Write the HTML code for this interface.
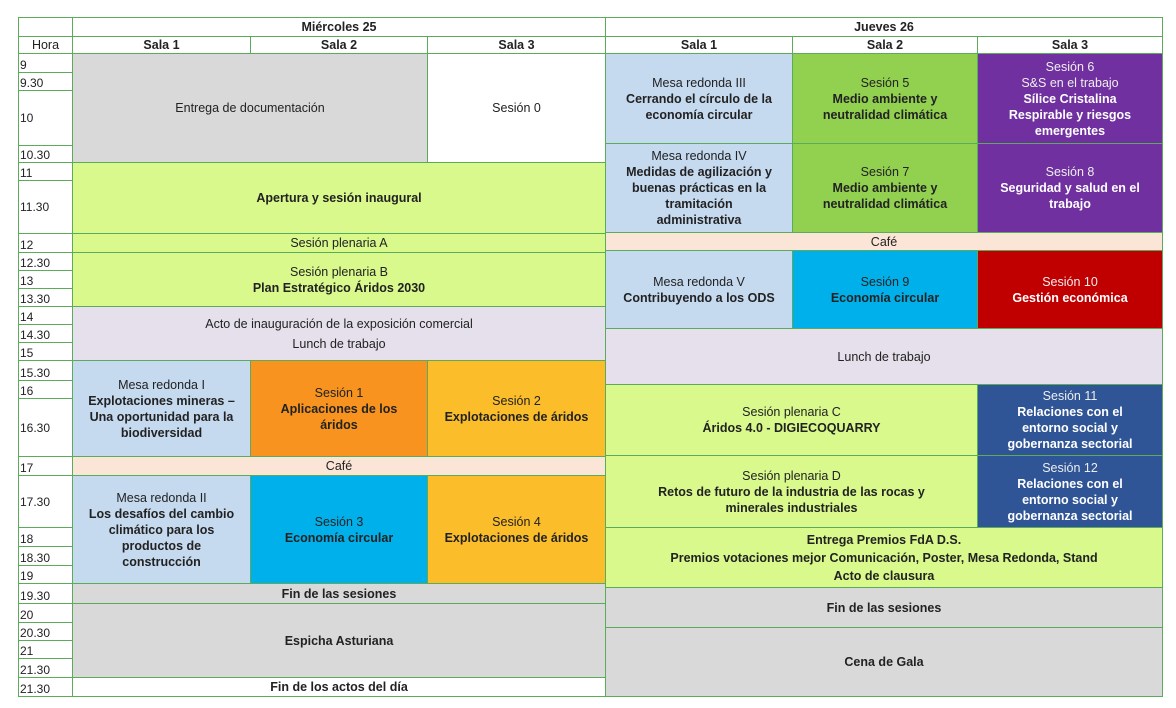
<!DOCTYPE html>
<html><head><meta charset="utf-8"><style>
body{margin:0;width:1176px;height:708px;background:#fff;font-family:"Liberation Sans",sans-serif;overflow:hidden;position:relative}
.c{position:absolute;display:flex;flex-direction:column;align-items:center;justify-content:center;text-align:center;border:1.5px solid #5bab5b;box-sizing:border-box;font-size:12.5px;color:#222;line-height:16px}
.h{position:absolute;border:1.5px solid #5bab5b;box-sizing:border-box;font-size:12px;color:#222;padding-left:1px;display:flex;align-items:flex-end;line-height:14px;left:18px;width:55px}
b{font-weight:bold}
.g{background:#d9d9d9}.lg{background:#d9f98c}.lav{background:#e5e0ec}.lb{background:#c5d9ef}.or{background:#f7931e}.yo{background:#fbbd2a}
.cafe{background:#fbe5d6}.cy{background:#00b0ea}.gr{background:#92d050}.pu{background:#7030a0;color:#fff}.rd{background:#c00000;color:#fff}.bl{background:#2f5597;color:#fff}
.pu span,.rd span,.bl span{color:#eee}
</style></head><body>
<!-- headers -->
<div class="c" style="left:18px;top:17px;width:55px;height:20px"></div>
<div class="c" style="left:72px;top:17px;width:534px;height:20px"><b>Miércoles 25</b></div>
<div class="c" style="left:605px;top:17px;width:558px;height:20px"><b>Jueves 26</b></div>
<div class="c" style="left:18px;top:36px;width:55px;height:18px;font-weight:normal">Hora</div>
<div class="c" style="left:72px;top:36px;width:179px;height:18px"><b>Sala 1</b></div>
<div class="c" style="left:250px;top:36px;width:178px;height:18px"><b>Sala 2</b></div>
<div class="c" style="left:427px;top:36px;width:179px;height:18px"><b>Sala 3</b></div>
<div class="c" style="left:605px;top:36px;width:188px;height:18px"><b>Sala 1</b></div>
<div class="c" style="left:792px;top:36px;width:186px;height:18px"><b>Sala 2</b></div>
<div class="c" style="left:977px;top:36px;width:186px;height:18px"><b>Sala 3</b></div>
<!-- hours -->
<div class="h" style="top:53px;height:20px">9</div>
<div class="h" style="top:72px;height:19px">9.30</div>
<div class="h" style="top:90px;height:56px;align-items:center">10</div>
<div class="h" style="top:145px;height:18px">10.30</div>
<div class="h" style="top:162px;height:19px">11</div>
<div class="h" style="top:180px;height:54px;align-items:center">11.30</div>
<div class="h" style="top:233px;height:20px">12</div>
<div class="h" style="top:252px;height:19px">12.30</div>
<div class="h" style="top:270px;height:19px">13</div>
<div class="h" style="top:288px;height:19px">13.30</div>
<div class="h" style="top:306px;height:19px">14</div>
<div class="h" style="top:324px;height:19px">14.30</div>
<div class="h" style="top:342px;height:19px">15</div>
<div class="h" style="top:360px;height:21px">15.30</div>
<div class="h" style="top:380px;height:19px">16</div>
<div class="h" style="top:398px;height:59px;align-items:center">16.30</div>
<div class="h" style="top:456px;height:20px">17</div>
<div class="h" style="top:475px;height:53px;align-items:center">17.30</div>
<div class="h" style="top:527px;height:20px">18</div>
<div class="h" style="top:546px;height:20px">18.30</div>
<div class="h" style="top:565px;height:19px">19</div>
<div class="h" style="top:583px;height:21px">19.30</div>
<div class="h" style="top:603px;height:20px">20</div>
<div class="h" style="top:622px;height:19px">20.30</div>
<div class="h" style="top:640px;height:19px">21</div>
<div class="h" style="top:658px;height:20px">21.30</div>
<div class="h" style="top:677px;height:20px">21.30</div>
<!-- Wednesday -->
<div class="c g" style="left:72px;top:53px;width:356px;height:110px">Entrega de documentación</div>
<div class="c" style="left:427px;top:53px;width:179px;height:110px">Sesión 0</div>
<div class="c lg" style="left:72px;top:162px;width:534px;height:72px"><b>Apertura y sesión inaugural</b></div>
<div class="c lg" style="left:72px;top:233px;width:534px;height:20px">Sesión plenaria A</div>
<div class="c lg" style="left:72px;top:252px;width:534px;height:55px">Sesión plenaria B<b>Plan Estratégico Áridos 2030</b></div>
<div class="c lav" style="left:72px;top:306px;width:534px;height:55px;line-height:20px">Acto de inauguración de la exposición comercial<br>Lunch de trabajo</div>
<div class="c lb" style="left:72px;top:360px;width:179px;height:97px">Mesa redonda I<b>Explotaciones mineras –<br>Una oportunidad para la<br>biodiversidad</b></div>
<div class="c or" style="left:250px;top:360px;width:178px;height:97px">Sesión 1<b>Aplicaciones de los<br>áridos</b></div>
<div class="c yo" style="left:427px;top:360px;width:179px;height:97px">Sesión 2<b>Explotaciones de áridos</b></div>
<div class="c cafe" style="left:72px;top:456px;width:534px;height:20px">Café</div>
<div class="c lb" style="left:72px;top:475px;width:179px;height:109px">Mesa redonda II<b>Los desafíos del cambio<br>climático para los<br>productos de<br>construcción</b></div>
<div class="c cy" style="left:250px;top:475px;width:178px;height:109px">Sesión 3<b>Economía circular</b></div>
<div class="c yo" style="left:427px;top:475px;width:179px;height:109px">Sesión 4<b>Explotaciones de áridos</b></div>
<div class="c g" style="left:72px;top:583px;width:534px;height:21px"><b>Fin de las sesiones</b></div>
<div class="c g" style="left:72px;top:603px;width:534px;height:75px"><b>Espicha Asturiana</b></div>
<div class="c" style="left:72px;top:677px;width:534px;height:20px"><b>Fin de los actos del día</b></div>
<!-- Thursday -->
<div class="c lb" style="left:605px;top:53px;width:188px;height:91px">Mesa redonda III<b>Cerrando el círculo de la<br>economía circular</b></div>
<div class="c gr" style="left:792px;top:53px;width:186px;height:91px">Sesión 5<b>Medio ambiente y<br>neutralidad climática</b></div>
<div class="c pu" style="left:977px;top:53px;width:186px;height:91px"><span>Sesión 6</span><span>S&amp;S en el trabajo</span><b>Sílice Cristalina<br>Respirable y riesgos<br>emergentes</b></div>
<div class="c lb" style="left:605px;top:143px;width:188px;height:90px">Mesa redonda IV<b>Medidas de agilización y<br>buenas prácticas en la<br>tramitación<br>administrativa</b></div>
<div class="c gr" style="left:792px;top:143px;width:186px;height:90px">Sesión 7<b>Medio ambiente y<br>neutralidad climática</b></div>
<div class="c pu" style="left:977px;top:143px;width:186px;height:90px"><span>Sesión 8</span><b>Seguridad y salud en el<br>trabajo</b></div>
<div class="c cafe" style="left:605px;top:232px;width:558px;height:19px">Café</div>
<div class="c lb" style="left:605px;top:250px;width:188px;height:79px">Mesa redonda V<b>Contribuyendo a los ODS</b></div>
<div class="c cy" style="left:792px;top:250px;width:186px;height:79px">Sesión 9<b>Economía circular</b></div>
<div class="c rd" style="left:977px;top:250px;width:186px;height:79px"><span>Sesión 10</span><b>Gestión económica</b></div>
<div class="c lav" style="left:605px;top:328px;width:558px;height:57px">Lunch de trabajo</div>
<div class="c lg" style="left:605px;top:384px;width:373px;height:72px">Sesión plenaria C<b>Áridos 4.0 - DIGIECOQUARRY</b></div>
<div class="c bl" style="left:977px;top:384px;width:186px;height:72px"><span>Sesión 11</span><b>Relaciones con el<br>entorno social y<br>gobernanza sectorial</b></div>
<div class="c lg" style="left:605px;top:455px;width:373px;height:73px">Sesión plenaria D<b>Retos de futuro de la industria de las rocas y<br>minerales industriales</b></div>
<div class="c bl" style="left:977px;top:455px;width:186px;height:73px"><span>Sesión 12</span><b>Relaciones con el<br>entorno social y<br>gobernanza sectorial</b></div>
<div class="c lg" style="left:605px;top:527px;width:558px;height:61px;line-height:18px"><b>Entrega Premios FdA D.S.<br>Premios votaciones mejor Comunicación, Poster, Mesa Redonda, Stand<br>Acto de clausura</b></div>
<div class="c g" style="left:605px;top:587px;width:558px;height:41px"><b>Fin de las sesiones</b></div>
<div class="c g" style="left:605px;top:627px;width:558px;height:70px"><b>Cena de Gala</b></div>
</body></html>
